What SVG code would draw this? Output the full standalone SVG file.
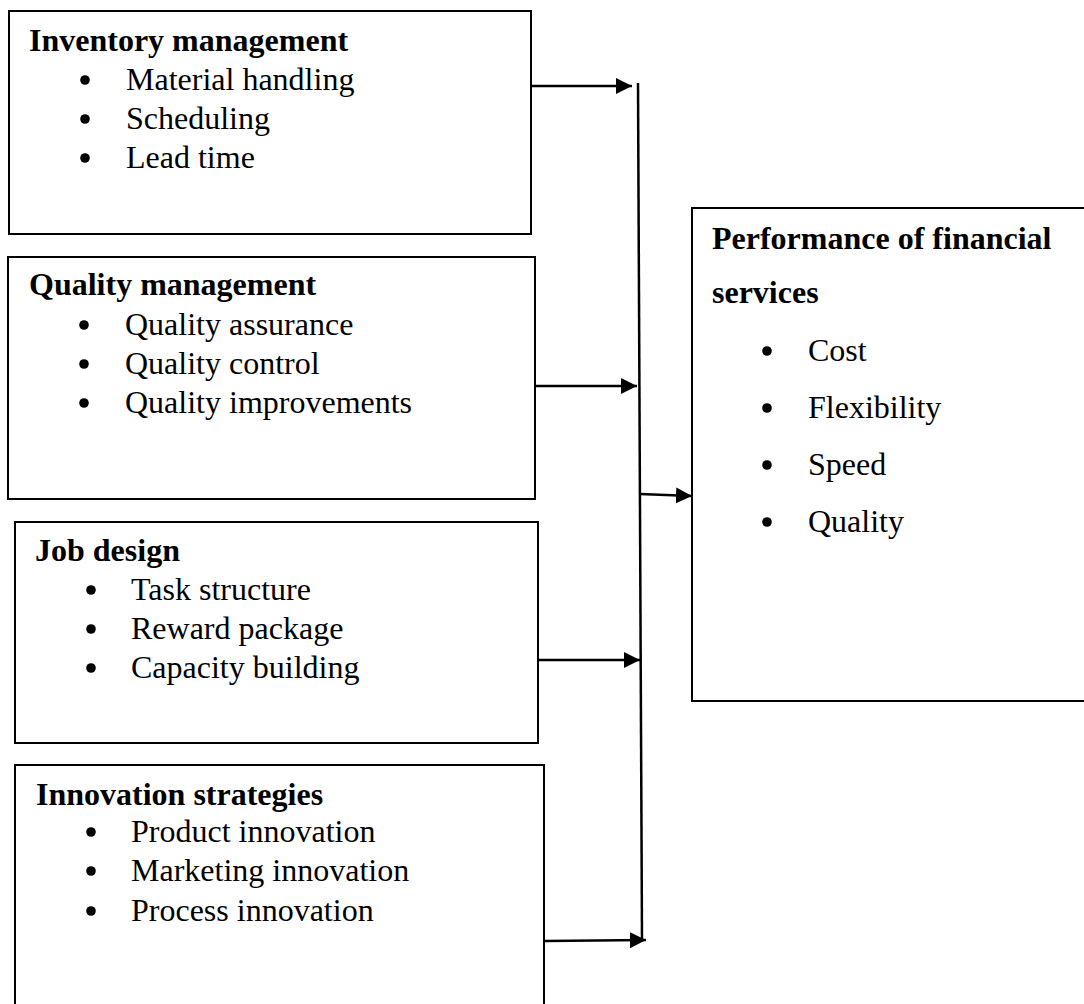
<svg xmlns="http://www.w3.org/2000/svg" width="1084" height="1004" viewBox="0 0 1084 1004">
  <style>
    .box { fill: #ffffff; stroke: #000000; stroke-width: 2; }
    .h { font-family: "Liberation Serif", "Times New Roman", serif; font-size: 32px; font-weight: bold; fill: #000; }
    .t { font-family: "Liberation Serif", "Times New Roman", serif; font-size: 32px; fill: #000; }
    .b { fill: #000; }
    .c { stroke: #000; stroke-width: 2.5; fill: none; }
  </style>
  <defs>
    <marker id="arr" markerUnits="userSpaceOnUse" markerWidth="18" markerHeight="18" refX="16" refY="9" orient="auto">
      <path d="M0,1 L16,9 L0,17 z" fill="#000"/>
    </marker>
  </defs>
  <rect x="0" y="0" width="1084" height="1004" fill="#ffffff"/>

  <g id="inventory">
    <rect class="box" x="9" y="11" width="522" height="223"/>
    <text class="h" x="29" y="51">Inventory management</text>
    <circle class="b" cx="85" cy="80" r="4.8"/>
    <text class="t" x="126" y="90">Material handling</text>
    <circle class="b" cx="85" cy="119" r="4.8"/>
    <text class="t" x="126" y="129">Scheduling</text>
    <circle class="b" cx="85" cy="158" r="4.8"/>
    <text class="t" x="126" y="168">Lead time</text>
  </g>

  <g id="quality">
    <rect class="box" x="8" y="257" width="527" height="242"/>
    <text class="h" x="29" y="295">Quality management</text>
    <circle class="b" cx="84" cy="325" r="4.8"/>
    <text class="t" x="125" y="335">Quality assurance</text>
    <circle class="b" cx="84" cy="364" r="4.8"/>
    <text class="t" x="125" y="374">Quality control</text>
    <circle class="b" cx="84" cy="403" r="4.8"/>
    <text class="t" x="125" y="413">Quality improvements</text>
  </g>

  <g id="job">
    <rect class="box" x="15" y="522" width="523" height="221"/>
    <text class="h" x="35" y="561">Job design</text>
    <circle class="b" cx="91" cy="590" r="4.8"/>
    <text class="t" x="131" y="600">Task structure</text>
    <circle class="b" cx="91" cy="629" r="4.8"/>
    <text class="t" x="131" y="639">Reward package</text>
    <circle class="b" cx="91" cy="668" r="4.8"/>
    <text class="t" x="131" y="678">Capacity building</text>
  </g>

  <g id="innovation">
    <rect class="box" x="15" y="765" width="529" height="260"/>
    <text class="h" x="36" y="805">Innovation strategies</text>
    <circle class="b" cx="91" cy="832" r="4.8"/>
    <text class="t" x="131" y="842">Product innovation</text>
    <circle class="b" cx="91" cy="871" r="4.8"/>
    <text class="t" x="131" y="881">Marketing innovation</text>
    <circle class="b" cx="91" cy="911" r="4.8"/>
    <text class="t" x="131" y="921">Process innovation</text>
  </g>

  <g id="performance">
    <rect class="box" x="692" y="208" width="420" height="493"/>
    <text class="h" x="712" y="249">Performance of financial</text>
    <text class="h" x="712" y="303">services</text>
    <circle class="b" cx="767" cy="351" r="4.8"/>
    <text class="t" x="808" y="361">Cost</text>
    <circle class="b" cx="767" cy="408" r="4.8"/>
    <text class="t" x="808" y="418">Flexibility</text>
    <circle class="b" cx="767" cy="465" r="4.8"/>
    <text class="t" x="808" y="475">Speed</text>
    <circle class="b" cx="767" cy="522" r="4.8"/>
    <text class="t" x="808" y="532">Quality</text>
  </g>

  <g id="connectors">
    <line class="c" x1="638" y1="83" x2="642" y2="940"/>
    <line class="c" x1="531" y1="86" x2="632" y2="86" marker-end="url(#arr)"/>
    <line class="c" x1="536" y1="386" x2="637" y2="386" marker-end="url(#arr)"/>
    <line class="c" x1="539" y1="660" x2="640" y2="660" marker-end="url(#arr)"/>
    <line class="c" x1="545" y1="941" x2="646" y2="940" marker-end="url(#arr)"/>
    <line class="c" x1="640" y1="494" x2="692" y2="496" marker-end="url(#arr)"/>
  </g>
</svg>
